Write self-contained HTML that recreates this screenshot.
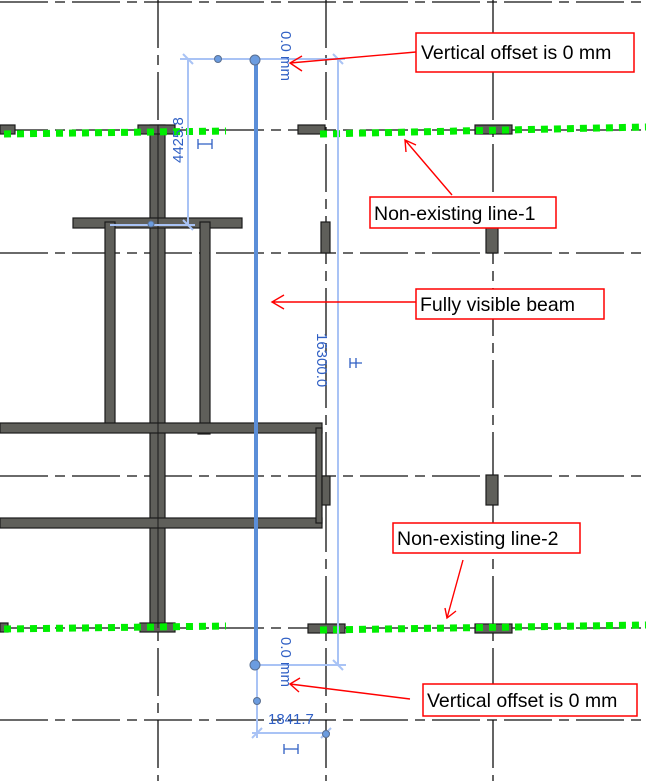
<!DOCTYPE html>
<html><head><meta charset="utf-8"><style>
html,body{margin:0;padding:0;background:#fff;width:646px;height:781px;overflow:hidden}
svg{display:block}
text{font-family:"Liberation Sans",sans-serif}
</style></head><body>
<svg width="646" height="781" viewBox="0 0 646 781" xmlns="http://www.w3.org/2000/svg">
<g stroke="#111" stroke-width="1.3" stroke-dasharray="48,7,10,7" fill="none">
<line x1="0" y1="2" x2="646" y2="2"/>
<line x1="0" y1="130" x2="646" y2="130"/>
<line x1="0" y1="253" x2="646" y2="253"/>
<line x1="0" y1="476" x2="646" y2="476"/>
<line x1="0" y1="628" x2="646" y2="628"/>
<line x1="0" y1="720" x2="646" y2="720"/>
<line x1="158" y1="0" x2="158" y2="781"/>
<line x1="326" y1="0" x2="326" y2="781"/>
<line x1="493" y1="0" x2="493" y2="781"/>
</g>
<g fill="#5f5f5a" stroke="#1a1a1a" stroke-width="1.2">
<rect x="150" y="125" width="15" height="503"/>
<rect x="73" y="218" width="169" height="10"/>
<rect x="105" y="222" width="10" height="202"/>
<rect x="200" y="222" width="10" height="203"/>
<rect x="198" y="424" width="12" height="10"/>
<rect x="0" y="423" width="322" height="10"/>
<rect x="0" y="518" width="322" height="10"/>
<rect x="316" y="428" width="6" height="95"/>
<rect x="322" y="476" width="8" height="29"/>
<rect x="0" y="125" width="15" height="9"/>
<rect x="138" y="125" width="37" height="9"/>
<rect x="298" y="125" width="27" height="9"/>
<rect x="475" y="125" width="37" height="9"/>
<rect x="0" y="623" width="8" height="9"/>
<rect x="140" y="623" width="35" height="9"/>
<rect x="308" y="624" width="37" height="9"/>
<rect x="475" y="624" width="37" height="9"/>
<rect x="321" y="222" width="9" height="31"/>
<rect x="486" y="227" width="12" height="26"/>
<rect x="486" y="475" width="12" height="30"/>
</g>
<line x1="158" y1="125" x2="158" y2="628" stroke="#1a1a1a" stroke-width="1"/>
<g stroke="#00ee00" stroke-width="7" stroke-dasharray="7,6" fill="none">
<line x1="4" y1="134" x2="226" y2="131"/>
<line x1="320" y1="134" x2="646" y2="127"/>
<line x1="4" y1="629" x2="226" y2="626"/>
<line x1="320" y1="630" x2="646" y2="625"/>
</g>
<g stroke="#a9c3f5" stroke-width="2" fill="none">
<line x1="180" y1="59" x2="345" y2="59"/>
<line x1="188" y1="59" x2="188" y2="226"/>
<line x1="338" y1="59" x2="338" y2="666"/>
<line x1="110" y1="225" x2="195" y2="225"/>
<line x1="255" y1="665" x2="346" y2="665"/>
<line x1="257" y1="665" x2="257" y2="738"/>
<line x1="252" y1="733" x2="330" y2="733"/>
<line x1="183" y1="54" x2="193" y2="64"/><line x1="333" y1="54" x2="343" y2="64"/>
<line x1="183" y1="220" x2="193" y2="230"/><line x1="333" y1="660" x2="343" y2="670"/>
<line x1="252" y1="738" x2="262" y2="728"/><line x1="321" y1="738" x2="331" y2="728"/>
</g>
<line x1="256" y1="59" x2="256" y2="665" stroke="#5b8ed8" stroke-width="4"/>
<g fill="#6b9ce0" stroke="#5a6f90" stroke-width="1">
<circle cx="255" cy="60" r="5"/><circle cx="218" cy="59" r="3.5"/>
<circle cx="255" cy="665" r="5"/><circle cx="257" cy="701" r="3.5"/>
<circle cx="326" cy="734" r="3.5"/><circle cx="151" cy="224" r="3"/>
</g>
<g fill="#2f5fc4" font-size="15">
<text transform="translate(281,31) rotate(90)">0.0 mm</text>
<text transform="translate(281,637) rotate(90)">0.0 mm</text>
<text transform="translate(183,163) rotate(-90)">4425.8</text>
<text transform="translate(317,333) rotate(90)">16300.0</text>
<text x="268" y="724">1841.7</text>
</g>
<g stroke="#2f5fc4" stroke-width="1.3" fill="none">
<path d="M198 139v10M212 139v10M198 144h14"/>
<path d="M350 358v10M350 363h12M356 358v10"/>
<path d="M284 744v10M298 744v10M284 749h14"/>
</g>
<g stroke="#ff0000" stroke-width="1.4" fill="none">
<path d="M416 52L290 63M302 56L290 63L302 71"/>
<path d="M452 195L405 140M406 152L405 140L416 145"/>
<path d="M416 302L272 302M284 295L272 302L284 309"/>
<path d="M463 560L447 618M445 608L447 618L456 611"/>
<path d="M410 699L290 684M300 678L290 684L299 692"/>
</g>
<g fill="#fff" stroke="#ff0000" stroke-width="1.5">
<rect x="416" y="33" width="218" height="39"/>
<rect x="370" y="197" width="186" height="31"/>
<rect x="416" y="289" width="188" height="30"/>
<rect x="393" y="523" width="187" height="30"/>
<rect x="423" y="684" width="214" height="32"/>
</g>
<g fill="#000" font-size="19.5">
<text x="421" y="59">Vertical offset is 0 mm</text>
<text x="374" y="220">Non-existing line-1</text>
<text x="420" y="311">Fully visible beam</text>
<text x="397" y="545">Non-existing line-2</text>
<text x="427" y="707">Vertical offset is 0 mm</text>
</g>
</svg>
</body></html>
